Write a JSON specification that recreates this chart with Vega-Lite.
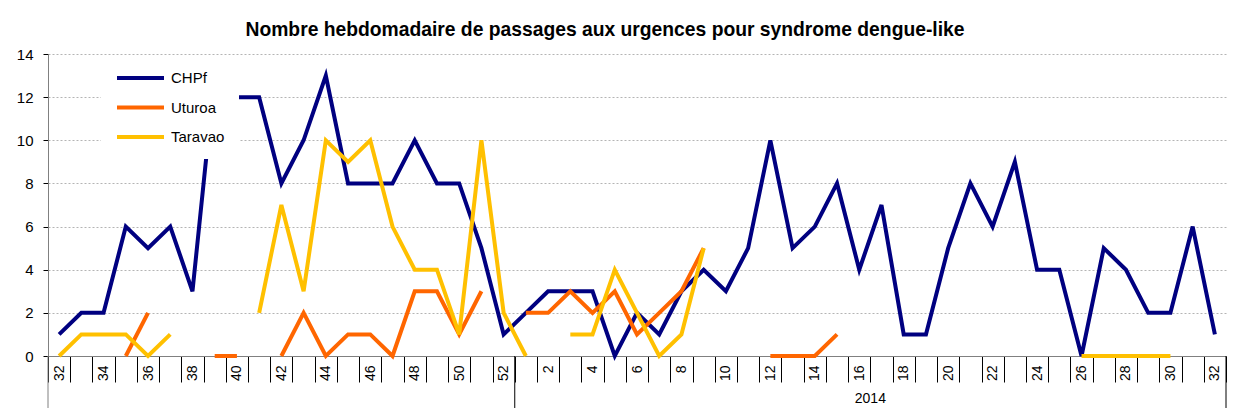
{
  "$schema": "https://vega.github.io/schema/vega-lite/v6.json",
  "width": 1178,
  "height": 302,
  "autosize": {"type": "none"},
  "padding": {"left": 48, "top": 54, "right": 15, "bottom": 61},
  "background": "white",
  "config": {"view": {"stroke": null}, "font": "Liberation Sans"},
  "title": {
    "text": "Nombre hebdomadaire de passages aux urgences pour syndrome dengue-like",
    "font": "Liberation Sans",
    "fontSize": 19.3,
    "fontWeight": "bold",
    "color": "black",
    "anchor": "middle",
    "frame": "group",
    "dx": -32,
    "offset": 7
  },
  "data": {
    "values": [
      {"sem": "2013-32", "CHPf": 1, "Uturoa": null, "Taravao": 0},
      {"sem": "2013-33", "CHPf": 2, "Uturoa": null, "Taravao": 1},
      {"sem": "2013-34", "CHPf": 2, "Uturoa": null, "Taravao": 1},
      {"sem": "2013-35", "CHPf": 6, "Uturoa": 0, "Taravao": 1},
      {"sem": "2013-36", "CHPf": 5, "Uturoa": 2, "Taravao": 0},
      {"sem": "2013-37", "CHPf": 6, "Uturoa": null, "Taravao": 1},
      {"sem": "2013-38", "CHPf": 3, "Uturoa": null, "Taravao": null},
      {"sem": "2013-39", "CHPf": 13, "Uturoa": 0, "Taravao": null},
      {"sem": "2013-40", "CHPf": 12, "Uturoa": 0, "Taravao": null},
      {"sem": "2013-41", "CHPf": 12, "Uturoa": null, "Taravao": 2},
      {"sem": "2013-42", "CHPf": 8, "Uturoa": 0, "Taravao": 7},
      {"sem": "2013-43", "CHPf": 10, "Uturoa": 2, "Taravao": 3},
      {"sem": "2013-44", "CHPf": 13, "Uturoa": 0, "Taravao": 10},
      {"sem": "2013-45", "CHPf": 8, "Uturoa": 1, "Taravao": 9},
      {"sem": "2013-46", "CHPf": 8, "Uturoa": 1, "Taravao": 10},
      {"sem": "2013-47", "CHPf": 8, "Uturoa": 0, "Taravao": 6},
      {"sem": "2013-48", "CHPf": 10, "Uturoa": 3, "Taravao": 4},
      {"sem": "2013-49", "CHPf": 8, "Uturoa": 3, "Taravao": 4},
      {"sem": "2013-50", "CHPf": 8, "Uturoa": 1, "Taravao": 1},
      {"sem": "2013-51", "CHPf": 5, "Uturoa": 3, "Taravao": 10},
      {"sem": "2013-52", "CHPf": 1, "Uturoa": null, "Taravao": 2},
      {"sem": "2014-01", "CHPf": 2, "Uturoa": 2, "Taravao": 0},
      {"sem": "2014-02", "CHPf": 3, "Uturoa": 2, "Taravao": null},
      {"sem": "2014-03", "CHPf": 3, "Uturoa": 3, "Taravao": 1},
      {"sem": "2014-04", "CHPf": 3, "Uturoa": 2, "Taravao": 1},
      {"sem": "2014-05", "CHPf": 0, "Uturoa": 3, "Taravao": 4},
      {"sem": "2014-06", "CHPf": 2, "Uturoa": 1, "Taravao": 2},
      {"sem": "2014-07", "CHPf": 1, "Uturoa": 2, "Taravao": 0},
      {"sem": "2014-08", "CHPf": 3, "Uturoa": 3, "Taravao": 1},
      {"sem": "2014-09", "CHPf": 4, "Uturoa": 5, "Taravao": 5},
      {"sem": "2014-10", "CHPf": 3, "Uturoa": null, "Taravao": null},
      {"sem": "2014-11", "CHPf": 5, "Uturoa": null, "Taravao": null},
      {"sem": "2014-12", "CHPf": 10, "Uturoa": 0, "Taravao": null},
      {"sem": "2014-13", "CHPf": 5, "Uturoa": 0, "Taravao": null},
      {"sem": "2014-14", "CHPf": 6, "Uturoa": 0, "Taravao": null},
      {"sem": "2014-15", "CHPf": 8, "Uturoa": 1, "Taravao": null},
      {"sem": "2014-16", "CHPf": 4, "Uturoa": null, "Taravao": null},
      {"sem": "2014-17", "CHPf": 7, "Uturoa": null, "Taravao": null},
      {"sem": "2014-18", "CHPf": 1, "Uturoa": null, "Taravao": null},
      {"sem": "2014-19", "CHPf": 1, "Uturoa": null, "Taravao": null},
      {"sem": "2014-20", "CHPf": 5, "Uturoa": null, "Taravao": null},
      {"sem": "2014-21", "CHPf": 8, "Uturoa": null, "Taravao": null},
      {"sem": "2014-22", "CHPf": 6, "Uturoa": null, "Taravao": null},
      {"sem": "2014-23", "CHPf": 9, "Uturoa": null, "Taravao": null},
      {"sem": "2014-24", "CHPf": 4, "Uturoa": null, "Taravao": null},
      {"sem": "2014-25", "CHPf": 4, "Uturoa": null, "Taravao": null},
      {"sem": "2014-26", "CHPf": 0, "Uturoa": null, "Taravao": 0},
      {"sem": "2014-27", "CHPf": 5, "Uturoa": null, "Taravao": 0},
      {"sem": "2014-28", "CHPf": 4, "Uturoa": null, "Taravao": 0},
      {"sem": "2014-29", "CHPf": 2, "Uturoa": null, "Taravao": 0},
      {"sem": "2014-30", "CHPf": 2, "Uturoa": null, "Taravao": 0},
      {"sem": "2014-31", "CHPf": 6, "Uturoa": null, "Taravao": null},
      {"sem": "2014-32", "CHPf": 1, "Uturoa": null, "Taravao": null}
    ]
  },
  "layer": [
    {
      "transform": [{"fold": ["CHPf", "Uturoa", "Taravao"], "as": ["site", "n"]}],
      "mark": {"type": "line", "strokeWidth": 4, "invalid": "break-paths-show-domains"},
      "encoding": {
        "x": {
          "field": "sem",
          "type": "ordinal",
          "bandPosition": 0.5,
          "scale": {"type": "band", "paddingInner": 0, "paddingOuter": 0},
          "axis": {
            "title": null,
            "labelAngle": -90,
            "labelAlign": "right",
            "labelBaseline": "middle",
            "labelExpr": "toNumber(substring(datum.label, 5)) % 2 == 0 ? toString(toNumber(substring(datum.label, 5))) : ''",
            "labelOverlap": false,
            "tickBand": "extent",
            "tickSize": 26,
            "tickColor": "black",
            "domainColor": "#808080",
            "labelPadding": -17,
            "labelFontSize": 14,
            "labelColor": "black",
            "labelFont": "Liberation Sans",
            "grid": false
          }
        },
        "y": {
          "field": "n",
          "type": "quantitative",
          "scale": {"domain": [0, 14], "nice": false},
          "axis": {
            "title": null,
            "values": [0, 2, 4, 6, 8, 10, 12, 14],
            "grid": true,
            "gridDash": [2, 2],
            "gridColor": "#b4b4b4",
            "domainColor": "#808080",
            "tickColor": "black",
            "tickSize": 5,
            "labelFontSize": 15,
            "labelPadding": 10,
            "labelColor": "black",
            "labelFont": "Liberation Sans"
          }
        },
        "color": {
          "field": "site",
          "type": "nominal",
          "scale": {"domain": ["CHPf", "Uturoa", "Taravao"], "range": ["#000080", "#FF6600", "#FFC000"]},
          "legend": {
            "title": null,
            "orient": "none",
            "legendX": 53,
            "legendY": 2,
            "symbolType": "stroke",
            "symbolSize": 2209,
            "symbolStrokeWidth": 4,
            "clipHeight": 16,
            "rowPadding": 13.5,
            "labelFontSize": 15,
            "labelFont": "Liberation Sans",
            "labelColor": "black",
            "labelOffset": 5,
            "padding": 14,
            "fillColor": "white",
            "strokeColor": null,
            "zindex": 1
          }
        }
      }
    },
    {
      "data": {"values": [{}]},
      "mark": {"type": "rule", "color": "#808080", "strokeWidth": 1},
      "encoding": {
        "x": {"datum": "2013-32", "type": "ordinal", "bandPosition": 0},
        "y": {"datum": 0, "type": "quantitative"},
        "y2": {"datum": -2.41}
      }
    },
    {
      "data": {"values": [{}]},
      "mark": {"type": "rule", "color": "black", "strokeWidth": 1},
      "encoding": {
        "x": {"datum": "2014-01", "type": "ordinal", "bandPosition": 0},
        "y": {"datum": 0, "type": "quantitative"},
        "y2": {"datum": -2.41}
      }
    },
    {
      "data": {"values": [{}]},
      "mark": {"type": "rule", "color": "black", "strokeWidth": 1},
      "encoding": {
        "x": {"datum": "2014-32", "type": "ordinal", "bandPosition": 1},
        "y": {"datum": 0, "type": "quantitative"},
        "y2": {"datum": -2.41}
      }
    },
    {
      "data": {"values": [{}]},
      "mark": {"type": "text", "fontSize": 14, "font": "Liberation Sans", "color": "black", "align": "center", "baseline": "middle", "text": "2014"},
      "encoding": {
        "x": {"datum": "2014-17", "type": "ordinal", "bandPosition": 0},
        "y": {"datum": -1.99, "type": "quantitative"}
      }
    }
  ]
}
